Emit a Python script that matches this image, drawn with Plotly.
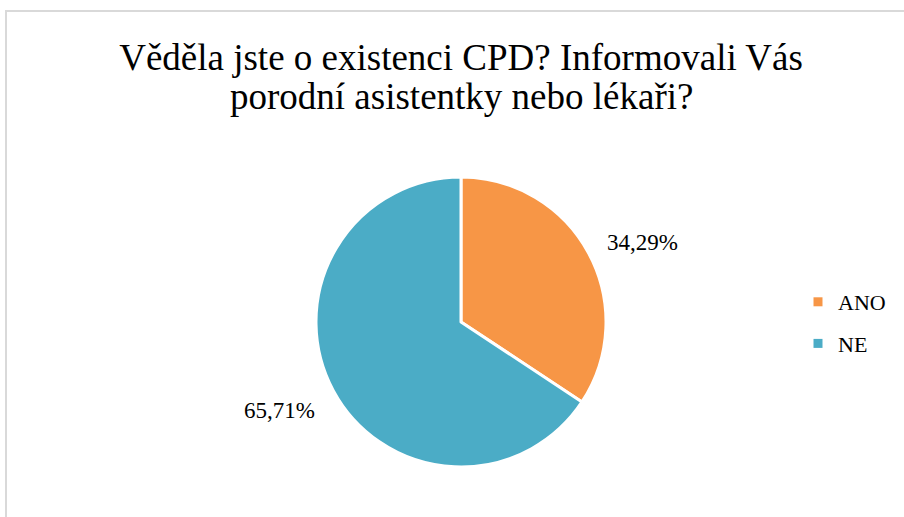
import math
import plotly.graph_objects as go

labels = ["ANO", "NE"]
values = [34.29, 65.71]
colors = ["#F79646", "#4BACC6"]
title_line1 = "Věděla jste o existenci CPD? Informovali Vás"
title_line2 = "porodní asistentky nebo lékaři?"

SERIF = "Liberation Serif, Times New Roman, serif"
W, H = 904, 517
cx, cy, r = 461, 322, 145  # pie centre / radius in px

fig = go.Figure()
fig.add_trace(go.Pie(
    labels=labels, values=values, sort=False, direction="clockwise", rotation=0,
    marker=dict(colors=colors, line=dict(color="white", width=3)),
    textinfo="none", hoverinfo="label+percent", showlegend=False,
    domain=dict(x=[(cx - r) / W, (cx + r) / W], y=[1 - (cy + r) / H, 1 - (cy - r) / H]),
))

# legend entries (square markers)
for lab, col in zip(labels, colors):
    fig.add_trace(go.Scatter(
        x=[None], y=[None], mode="markers", name=lab, legendgroup=lab,
        marker=dict(symbol="square", size=9, color=col),
    ))

# outside-end data labels computed from the values
total = sum(values)
cum = 0
annotations = []
for v in values:
    mid = (cum + v / 2) / total * 2 * math.pi
    cum += v
    px = cx + (r + 18) * math.sin(mid)
    py = cy - (r + 32) * math.cos(mid) + 4.5
    annotations.append(dict(
        x=px / W, y=1 - py / H, xref="paper", yref="paper",
        text=f"{v:.2f}%".replace(".", ","), showarrow=False,
        xanchor="left" if math.sin(mid) > 0 else "right", yanchor="middle",
        font=dict(family=SERIF, size=23, color="#000000"),
    ))

# second title line
annotations.append(dict(
    x=cx / W, y=1 - 97 / H, xref="paper", yref="paper", text=title_line2,
    showarrow=False, xanchor="center", yanchor="middle",
    font=dict(family=SERIF, size=37, color="#000000"),
))

fig.update_layout(
    width=W, height=H, margin=dict(l=0, r=0, t=0, b=0),
    paper_bgcolor="white", plot_bgcolor="white",
    title=dict(text=title_line1, x=cx / W, xanchor="center", y=1 - 57 / H, yanchor="middle",
               font=dict(family=SERIF, size=37, color="#000000")),
    xaxis=dict(visible=False), yaxis=dict(visible=False),
    legend=dict(x=798 / W, y=1 - 281 / H, xanchor="left", yanchor="top",
                font=dict(family=SERIF, size=22, color="#000000"),
                tracegroupgap=10, bgcolor="rgba(0,0,0,0)"),
    annotations=annotations,
    shapes=[dict(type="rect", xref="paper", yref="paper",
                 x0=6 / W, x1=1.02, y0=-0.02, y1=1 - 11 / H,
                 line=dict(color="#D9D9D9", width=2), layer="below")],
)

fig.write_html("out.html")
